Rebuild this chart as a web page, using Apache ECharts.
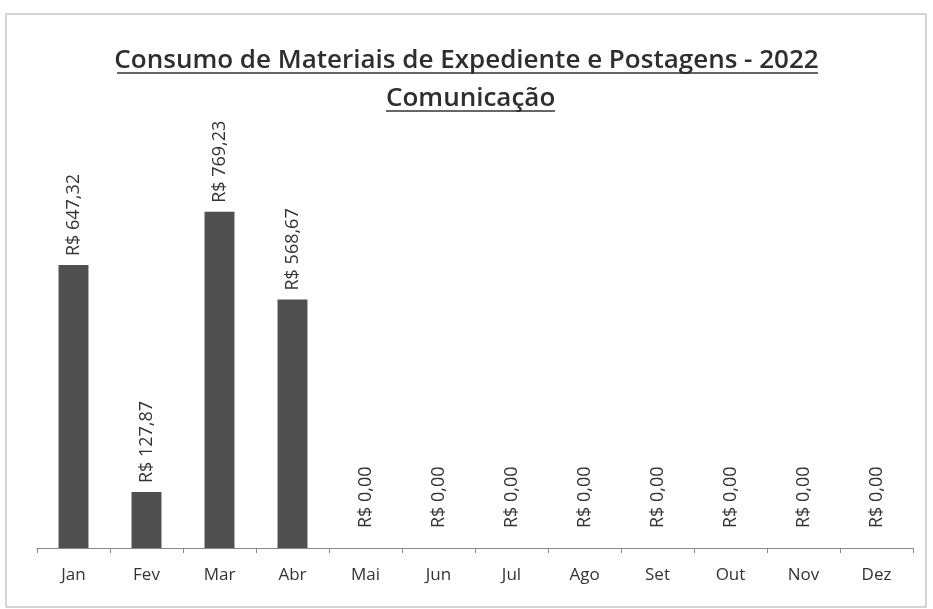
<!DOCTYPE html>
<html><head><meta charset="utf-8">
<script src="https://cdn.jsdelivr.net/npm/echarts@6/dist/echarts.min.js"></script>
<style>html,body{margin:0;padding:0;background:#fff}#c{width:933px;height:609px}</style>
</head><body><div id="c"></div>
<script>
const categories = ['Jan','Fev','Mar','Abr','Mai','Jun','Jul','Ago','Set','Out','Nov','Dez'];
const values = [647.32, 127.87, 769.23, 568.67, 0, 0, 0, 0, 0, 0, 0, 0];
const titleText = 'Consumo de Materiais de Expediente e Postagens - 2022';
const subtitleText = 'Comunicação';

function fmt(v){
  return 'R$ ' + v.toFixed(2).replace('.', ',');
}
const seriesData = values.map(v => v === 0 ? {value:v,label:{distance:20}} : {value:v});
const chart = echarts.init(document.getElementById('c'));
chart.setOption({
  animation:false,
  backgroundColor:'#fff',
  title:[
    {text:titleText,left:'center',top:43,textStyle:{fontFamily:'Open Sans',fontWeight:600,fontSize:26,color:'#2e2e2e'}},
    {text:subtitleText,left:381,top:81,textStyle:{fontFamily:'Open Sans',fontWeight:600,fontSize:26,color:'#2e2e2e'}}
  ],
  graphic:[
    {type:'rect',shape:{x:6,y:14,width:920,height:593},style:{fill:'none',stroke:'#aaa',lineWidth:1},silent:true},
    {type:'line',shape:{x1:117,y1:73,x2:818,y2:73},style:{stroke:'#333',lineWidth:1.5},silent:true},
    {type:'line',shape:{x1:386,y1:111,x2:555,y2:111},style:{stroke:'#333',lineWidth:1.5},silent:true}
  ],
  grid:{left:37,right:20,top:111,bottom:61},
  xAxis:{type:'category',data:categories,
    axisLine:{lineStyle:{color:'#888'}},
    axisTick:{show:true,length:5,lineStyle:{color:'#888'}},
    axisLabel:{fontFamily:'Open Sans',fontSize:17,color:'#333',margin:19}},
  yAxis:{type:'value',min:0,max:1000,show:false,splitLine:{show:false}},
  series:[{type:'bar',data:seriesData,barWidth:'41%',
    itemStyle:{color:'#4f4f4f'},
    label:{show:true,position:'top',rotate:90,align:'left',verticalAlign:'middle',distance:9,
      fontFamily:'Open Sans',fontSize:18,color:'#333',formatter:p=>fmt(p.value)}
  }]
});
</script></body></html>
